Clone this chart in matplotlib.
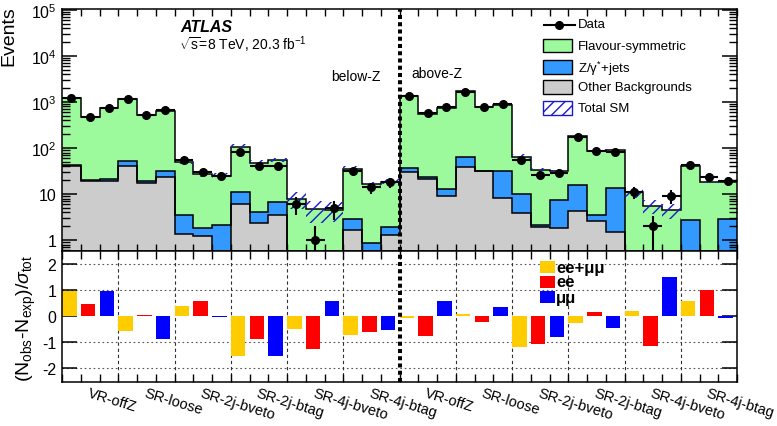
import numpy as np
import matplotlib
matplotlib.use('Agg')
import matplotlib.pyplot as plt
from matplotlib.patches import Rectangle
from matplotlib.lines import Line2D
from matplotlib.ticker import FixedLocator, FuncFormatter, NullFormatter

plt.rcParams['font.family'] = ['Liberation Sans', 'DejaVu Sans']
plt.rcParams['mathtext.fontset'] = 'custom'
plt.rcParams['mathtext.rm'] = 'Liberation Sans'
plt.rcParams['mathtext.it'] = 'Liberation Sans:italic'
plt.rcParams['mathtext.bf'] = 'Liberation Sans:bold'
plt.rcParams['axes.unicode_minus'] = False
plt.rcParams['hatch.linewidth'] = 1.0

# ---------------- data ----------------
regions = ["VR-offZ", "SR-loose", "SR-2j-bveto", "SR-2j-btag", "SR-4j-bveto", "SR-4j-btag"]
mass_windows = ["below-Z", "above-Z"]
channels = ["ee+\u03bc\u03bc", "ee", "\u03bc\u03bc"]

data_obs = [1225, 478, 747, 1180, 524, 656, 55, 30, 25, 81, 41, 40, 6, 1, 5, 32, 14, 18,
            1335, 568, 767, 1678, 768, 910, 55, 26, 29, 170, 86, 84, 11, 2, 9, 42, 23, 19]

bkg_other = [40, 19.5, 19, 41, 17, 24, 1.35, 1.24, 0.45, 6.1, 2.3, 3.5, 0.2, 0.15, 0.15, 1.67, 0.4, 1.3,
             30, 21, 8.9, 39, 31, 8.1, 3.9, 1.9, 1.8, 4.2, 2.6, 1.5, 0.2, 0.2, 0.2, 0.3, 0.2, 0.3]
bkg_zjets = [3, 1, 2, 12, 2.5, 8, 2.15, 0.58, 1.7, 4.8, 1.8, 3.3, 0.15, 0.15, 0.15, 1.19, 0.46, 0.65,
             6, 2, 3.9, 24, 1, 22.9, 6.1, 0.2, 5.6, 11.4, 1.0, 11.8, 0.2, 0.15, 0.15, 2.4, 0.2, 2.56]
bkg_flavsym = [1157, 450, 719, 1127, 496, 608, 47.5, 25.2, 22.9, 96.1, 43.9, 48.2, 7.45, 4.4, 4.3, 33.1, 15.6, 16.6,
               1294, 537, 747, 1637, 738, 849, 55, 31.9, 23.6, 169.4, 84.4, 78.7, 10.5, 5.25, 4.15, 38.3, 18.1, 15.1]
sm_rel_unc = [0.04, 0.04, 0.04, 0.04, 0.04, 0.04, 0.12, 0.12, 0.12, 0.12, 0.12, 0.10, 0.40, 0.50, 0.45, 0.12, 0.12, 0.12,
              0.04, 0.04, 0.04, 0.04, 0.04, 0.04, 0.15, 0.08, 0.08, 0.05, 0.06, 0.06, 0.25, 0.35, 0.35, 0.06, 0.08, 0.10]

pulls = [0.95, 0.44, 0.95, -0.59, 0.05, -0.90, 0.38, 0.59, -0.05, -1.54, -0.90, -1.54, -0.49, -1.26, 0.56, -0.72, -0.62, -0.53,
         -0.10, -0.77, 0.56, 0.09, -0.23, 0.36, -1.20, -1.10, -0.80, -0.28, 0.14, -0.47, 0.18, -1.18, 1.49, 0.56, 1.00, -0.08]

# ---------------- styling ----------------
W, H = 777, 427
def fx(px): return px / W
def fy(py): return 1 - py / H

c_fs = '#9CFA9C'
c_z = '#3399FF'
c_oth = '#CCCCCC'
c_hatch = '#1a1acc'
chan_colors = ['#FFCC00', '#FF0000', '#0000FF']

fig = plt.figure(figsize=(W / 100, H / 100), dpi=100)
L, R, T, M, B = 62, 737, 10, 252, 383
ax = fig.add_axes([fx(L), fy(M), (R - L) / W, (M - T) / H])
ax2 = fig.add_axes([fx(L), fy(B), (R - L) / W, (B - M) / H])

nb = len(data_obs)
edges = np.arange(nb + 1)
centers = edges[:-1] + 0.5
oth = np.array(bkg_other, float)
zj = np.array(bkg_zjets, float)
fs = np.array(bkg_flavsym, float)
cum1 = oth
cum2 = oth + zj
cum3 = oth + zj + fs
base = 1e-3

ax.stairs(cum3, edges, baseline=base, fill=True, facecolor=c_fs, zorder=1)
ax.stairs(cum2, edges, baseline=base, fill=True, facecolor=c_z, zorder=1.1)
ax.stairs(cum1, edges, baseline=base, fill=True, facecolor=c_oth, zorder=1.2)
for c in (cum1, cum2, cum3):
    ax.stairs(c, edges, baseline=None, color='black', lw=1.1, zorder=2)

unc = cum3 * np.array(sm_rel_unc)
ax.bar(edges[:-1], 2 * unc, bottom=cum3 - unc, width=1.0, align='edge', fill=False,
       hatch='///', edgecolor=c_hatch, linewidth=0, zorder=3)

d = np.array(data_obs, float)
err = np.sqrt(d)
lo = np.minimum(err, d * 0.999)
ax.errorbar(centers, d, xerr=0.5, yerr=[lo, err], fmt='o', color='black', ms=5.5,
            elinewidth=1.5, capsize=0, zorder=5)

ax.set_yscale('log')
ax.set_xlim(0, nb)
ax.set_ylim(0.58, 1.05e5)
ax.yaxis.set_major_locator(FixedLocator([1, 10, 100, 1e3, 1e4, 1e5]))
labs = {1: '1', 10: '10', 100: '$10^{2}$', 1000: '$10^{3}$', 10000: '$10^{4}$', 100000: '$10^{5}$'}
ax.yaxis.set_major_formatter(FuncFormatter(lambda v, p: labs.get(int(round(v)), '')))
minors = [m * 10.0 ** e for e in range(-1, 5) for m in range(2, 10)]
ax.yaxis.set_minor_locator(FixedLocator(minors))
ax.yaxis.set_minor_formatter(NullFormatter())
ax.xaxis.set_major_locator(FixedLocator(edges))
ax.xaxis.set_major_formatter(NullFormatter())
ax.tick_params(axis='y', which='major', direction='in', length=11, width=1.1, right=True, labelsize=11.5, pad=4)
ax.tick_params(axis='y', which='minor', direction='in', length=6, width=1.0, right=True)
ax.tick_params(axis='x', which='major', direction='in', length=5, width=1.0, top=True)
for s in ax.spines.values():
    s.set_linewidth(1.1)

# lower panel
ax2.bar(edges[:-1], pulls, width=0.78, align='edge',
        color=[chan_colors[i % 3] for i in range(nb)], linewidth=0, zorder=2)
ax2.set_xlim(0, nb)
ax2.set_ylim(-2.55, 2.5)
ax2.yaxis.set_major_locator(FixedLocator([-2, -1, 0, 1, 2]))
ax2.xaxis.set_major_locator(FixedLocator(edges))
ax2.xaxis.set_major_formatter(NullFormatter())
ax2.tick_params(axis='y', which='major', direction='in', length=11, width=1.1, right=True, labelsize=11.5, pad=4)
ax2.tick_params(axis='x', which='major', direction='in', length=6, width=1.0, top=True)
for s in ax2.spines.values():
    s.set_linewidth(1.1)
for yv in [-2, -1, 1, 2]:
    ax2.axhline(yv, color='#555555', lw=0.8, ls=(0, (1.5, 2.5)), zorder=1)
for k in range(1, 12):
    if k == 6:
        continue
    ax2.axvline(3 * k, color='#333333', lw=0.8, ls=(0, (3, 2.5)), zorder=1)

# region labels
all_regions = regions + regions
for k, r in enumerate(all_regions):
    ax2.text(3 * k + 1.5, -0.025, r, transform=ax2.get_xaxis_transform(), rotation=-17,
             rotation_mode='anchor', ha='left', va='top', fontsize=10.5)

# separating thick line
for a in (ax, ax2):
    a.axvline(nb / 2, color='black', lw=2.9, ls=(0, (1.0, 0.8)), dash_capstyle='butt', zorder=6)

# axis titles
fig.text(fx(9), fy(6), 'Events', rotation=90, ha='center', va='top', fontsize=14)
fig.text(fx(26), fy(318), r'(N$_{\mathrm{obs}}$-N$_{\mathrm{exp}}$)/$\sigma_{\mathrm{tot}}$', rotation=90,
         ha='center', va='center', fontsize=14)

# labels
fig.text(fx(180), fy(27), 'ATLAS', fontsize=11.5, fontweight='bold', fontstyle='italic', ha='left', va='center')
fig.text(fx(179), fy(45), r'$\sqrt{\mathrm{s}}$=8 TeV, 20.3 fb$^{-1}$', fontsize=10, ha='left', va='center')
fig.text(fx(331), fy(77), mass_windows[0], fontsize=10, ha='left', va='center')
fig.text(fx(411), fy(74), mass_windows[1], fontsize=10, ha='left', va='center')

# upper legend
bx0, bx1 = 543, 572
tx = 578
fig.add_artist(Line2D([fx(bx0 + 1), fx(bx1 + 3)], [fy(26), fy(26)], color='black', lw=1.5))
fig.add_artist(Line2D([fx((bx0 + bx1) / 2 + 1)], [fy(26)], color='black', marker='o', ms=5.5))
fig.text(fx(tx), fy(25.5), 'Data', fontsize=9.5, ha='left', va='center')
leg_entries = [('Flavour-symmetric', c_fs, 40, 53), ('Z/\u03b3$^{*}$+jets', c_z, 61, 75),
               ('Other Backgrounds', c_oth, 81, 95), ('Total SM', None, 102, 116)]
for lab, col, y0, y1 in leg_entries:
    if col is None:
        rect = Rectangle((fx(bx0), fy(y1)), fx(bx1) - fx(bx0), fy(y0) - fy(y1), transform=fig.transFigure,
                         facecolor='white', edgecolor=c_hatch, hatch='///', lw=1.0)
    else:
        rect = Rectangle((fx(bx0), fy(y1)), fx(bx1) - fx(bx0), fy(y0) - fy(y1), transform=fig.transFigure,
                         facecolor=col, edgecolor='black', lw=1.0)
    fig.add_artist(rect)
    fig.text(fx(tx), fy((y0 + y1) / 2 + 0.5), lab, fontsize=9.5, ha='left', va='center')

# lower legend
low_boxes = [(262, 274), (277, 289), (292, 304)]
for i, (y0, y1) in enumerate(low_boxes):
    fig.add_artist(Rectangle((fx(540), fy(y1)), fx(555) - fx(540), fy(y0) - fy(y1),
                             transform=fig.transFigure, facecolor=chan_colors[i], edgecolor='none'))
    fig.text(fx(556), fy((y0 + y1) / 2), channels[i], fontsize=12, fontweight='bold',
             ha='left', va='center')

fig.savefig('out.png', dpi=100)
